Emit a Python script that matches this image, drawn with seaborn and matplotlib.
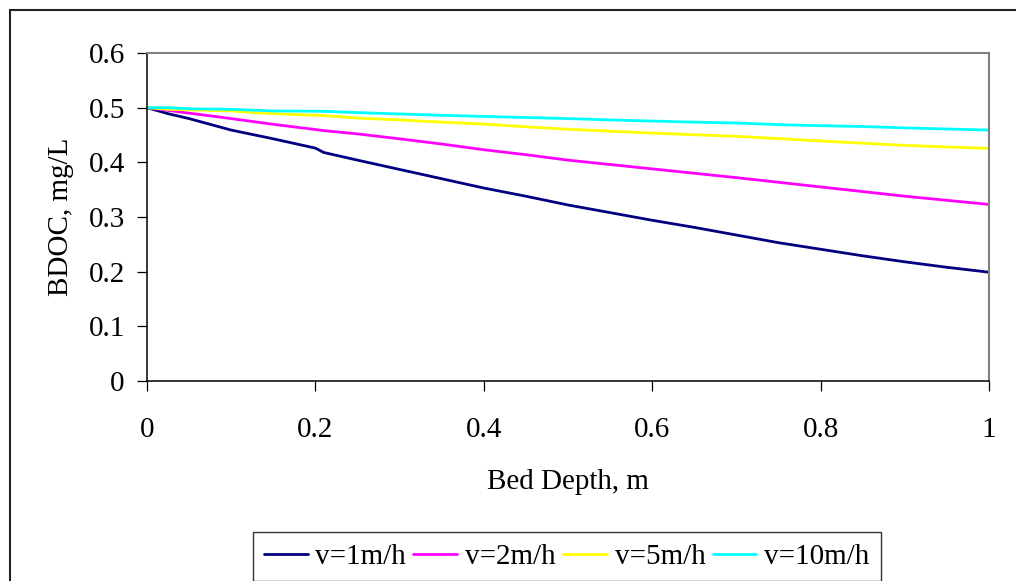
import numpy as np
import pandas as pd
import matplotlib
matplotlib.use("Agg")
import matplotlib.pyplot as plt
import matplotlib.patches as mpatches
import seaborn as sns

# ---- data ----
depth = [0.0, 0.025, 0.05, 0.1, 0.15, 0.2, 0.21, 0.25, 0.3, 0.35, 0.4, 0.45,
         0.5, 0.55, 0.6, 0.65, 0.7, 0.75, 0.8, 0.85, 0.9, 0.95, 1.0]
v1 = [0.500, 0.489, 0.480, 0.459, 0.443, 0.426, 0.418, 0.404, 0.387, 0.370,
      0.353, 0.338, 0.322, 0.308, 0.294, 0.281, 0.267, 0.253, 0.241, 0.229,
      0.218, 0.208, 0.199]
v2 = [0.500, 0.495, 0.490, 0.480, 0.4695, 0.460, 0.458, 0.452, 0.443, 0.4335,
      0.423, 0.414, 0.404, 0.396, 0.388, 0.380, 0.372, 0.3635, 0.355, 0.3465,
      0.338, 0.3305, 0.323]
v5 = [0.500, 0.497, 0.496, 0.494, 0.489, 0.486, 0.4855, 0.481, 0.4775, 0.4735,
      0.470, 0.465, 0.4605, 0.457, 0.4535, 0.4505, 0.4475, 0.4435, 0.439, 0.435,
      0.431, 0.428, 0.4256]
v10 = [0.500, 0.500, 0.498, 0.497, 0.494, 0.4935, 0.4933, 0.491, 0.4885, 0.486,
       0.484, 0.482, 0.480, 0.4775, 0.4755, 0.4735, 0.472, 0.469, 0.467, 0.4655,
       0.463, 0.461, 0.459]
series_names = ["v=1m/h", "v=2m/h", "v=5m/h", "v=10m/h"]
series_colors = ["#000080", "#FF00FF", "#FFFF00", "#00FFFF"]
x_ticks = [0, 0.2, 0.4, 0.6, 0.8, 1]
x_tick_labels = ["0", "0.2", "0.4", "0.6", "0.8", "1"]
y_ticks = [0, 0.1, 0.2, 0.3, 0.4, 0.5, 0.6]
y_tick_labels = ["0", "0.1", "0.2", "0.3", "0.4", "0.5", "0.6"]

frames = []
for name, vals in zip(series_names, [v1, v2, v5, v10]):
    frames.append(pd.DataFrame({"depth": depth, "BDOC": vals, "series": name}))
df = pd.concat(frames, ignore_index=True)

sns.set_theme(style="white")
plt.rcParams["font.family"] = ["Liberation Serif", "DejaVu Serif"]
FS = 21

W, H = 1016, 581
fig = plt.figure(figsize=(W / 100, H / 100), dpi=100)
ax = fig.add_axes([147 / W, 1 - 381 / H, (989 - 147) / W, (381 - 53) / H])

sns.lineplot(data=df, x="depth", y="BDOC", hue="series", hue_order=series_names,
             palette=series_colors, linewidth=2.0, ax=ax, legend=False)

ax.set_xlim(0, 1)
ax.set_ylim(0, 0.6)
ax.set_xticks(x_ticks)
ax.set_xticklabels(x_tick_labels)
ax.set_yticks(y_ticks)
ax.set_yticklabels(y_tick_labels)
ax.tick_params(axis="x", direction="out", length=7, width=0.9, color="black",
               pad=19, labelsize=FS, bottom=True)
ax.tick_params(axis="y", direction="out", length=7, width=0.9, color="black",
               pad=9, labelsize=FS, left=True)
for lab in ax.get_xticklabels() + ax.get_yticklabels():
    lab.set_color("black")

for side in ["left", "bottom"]:
    ax.spines[side].set_color("black")
    ax.spines[side].set_linewidth(1.1)
for side in ["top", "right"]:
    ax.spines[side].set_color("#808080")
    ax.spines[side].set_linewidth(1.5)

ax.set_xlabel("Bed Depth, m", fontsize=FS, color="black")
ax.set_ylabel("BDOC, mg/L", fontsize=FS, color="black")
ax.xaxis.label.set_va("center")
ax.yaxis.label.set_va("center")
ax.xaxis.set_label_coords(0.5, (381 - 482) / 328)
ax.yaxis.set_label_coords((61 - 147) / 842, 0.5)

handles = [plt.Line2D([], [], color=c, lw=2.0) for c in series_colors]
leg = fig.legend(handles, series_names, loc="upper left",
                 bbox_to_anchor=(252.7 / W, 1 - 532.3 / H), ncol=4,
                 fontsize=FS, frameon=True, fancybox=False, shadow=False,
                 handlelength=1.5, handletextpad=0.27, columnspacing=0.25,
                 borderpad=0.38, borderaxespad=0)
leg.get_frame().set_edgecolor("black")
leg.get_frame().set_linewidth(1.0)
leg.get_frame().set_facecolor("white")
for t in leg.get_texts():
    t.set_color("black")

frame = mpatches.Rectangle((10 / W, -0.1), 2.0, 1 - 10 / H + 0.1,
                           transform=fig.transFigure, fill=False,
                           edgecolor="#222222", linewidth=1.5, clip_on=False)
fig.patches.append(frame)

fig.savefig("out.png", dpi=100, facecolor="white")
